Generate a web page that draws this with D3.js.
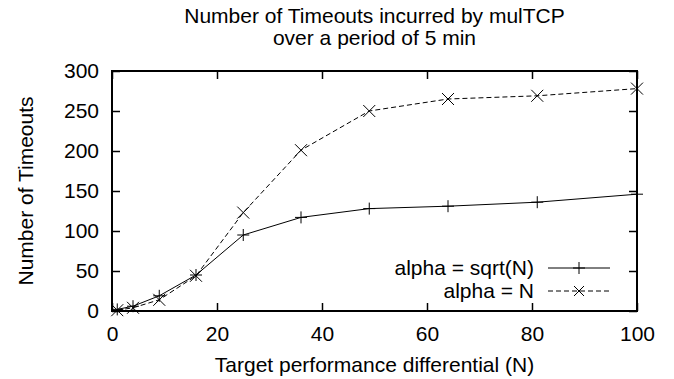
<!DOCTYPE html>
<html><head><meta charset="utf-8">
<script src="https://cdn.jsdelivr.net/npm/d3@7"></script>
<style>body{margin:0;background:#fff}svg{display:block}text{font-family:"Liberation Sans",Arial,sans-serif;fill:#000}</style>
</head><body>
<script>
const nValues = [1, 4, 9, 16, 25, 36, 49, 64, 81, 100];
const sqrtSeries = [2, 6, 19, 45, 95, 117, 128, 131, 136, 146];
const nSeries = [1, 4, 14, 44, 123, 201, 250, 265, 269, 278];
const seriesNames = ["alpha = sqrt(N)", "alpha = N"];
const xTicks = [0, 20, 40, 60, 80, 100];
const yTicks = [0, 50, 100, 150, 200, 250, 300];
const titleLines = ["Number of Timeouts incurred by mulTCP", "over a period of 5 min"];
const xLabel = "Target performance differential (N)";
const yLabel = "Number of Timeouts";

const W = 674, H = 379;
const m = {l: 112, r: 37, t: 71, b: 68};
const svg = d3.select("body").append("svg").attr("width", W).attr("height", H);
const x = d3.scaleLinear().domain([0, 100]).range([m.l, W - m.r]);
const y = d3.scaleLinear().domain([0, 300]).range([H - m.b, m.t]);
const fs = 21, tl = 8;
const cx = (x(0) + x(100)) / 2;

// axes with inward mirrored ticks
svg.append("g").attr("transform", `translate(0,${y(0)})`)
  .call(d3.axisBottom(x).tickValues(xTicks).tickSize(-tl).tickPadding(15))
  .call(g => { g.select(".domain").remove(); g.selectAll("text").attr("font-size", fs).attr("font-family", null); g.selectAll("line").attr("stroke-width", 1.5); });
svg.append("g").attr("transform", `translate(0,${y(300)})`)
  .call(d3.axisTop(x).tickValues(xTicks).tickSize(-tl).tickFormat(""))
  .call(g => { g.select(".domain").remove(); g.selectAll("line").attr("stroke-width", 1.5); });
svg.append("g").attr("transform", `translate(${x(0)},0)`)
  .call(d3.axisLeft(y).tickValues(yTicks).tickSize(-tl).tickPadding(13))
  .call(g => { g.select(".domain").remove(); g.selectAll("text").attr("font-size", fs).attr("font-family", null); g.selectAll("line").attr("stroke-width", 1.5); });
svg.append("g").attr("transform", `translate(${x(100)},0)`)
  .call(d3.axisRight(y).tickValues(yTicks).tickSize(-tl).tickFormat(""))
  .call(g => { g.select(".domain").remove(); g.selectAll("line").attr("stroke-width", 1.5); });
svg.append("rect").attr("x", x(0)).attr("y", y(300)).attr("width", x(100) - x(0)).attr("height", y(0) - y(300))
  .attr("fill", "none").attr("stroke", "#000").attr("stroke-width", 2);

// series
const line = d3.line().x(d => x(d[0])).y(d => y(d[1]));
const s1 = nValues.map((v, i) => [v, sqrtSeries[i]]);
const s2 = nValues.map((v, i) => [v, nSeries[i]]);
svg.append("path").attr("d", line(s1)).attr("fill", "none").attr("stroke", "#000").attr("stroke-width", 1);
svg.append("path").attr("d", line(s2)).attr("fill", "none").attr("stroke", "#000").attr("stroke-width", 1).attr("stroke-dasharray", "5,3");

function plus(g, px, py, r) {
  g.append("path").attr("d", `M${px - r},${py}H${px + r}M${px},${py - r}V${py + r}`).attr("stroke", "#000").attr("stroke-width", 1).attr("fill", "none");
}
function cross(g, px, py, r) {
  g.append("path").attr("d", `M${px - r},${py - r}L${px + r},${py + r}M${px - r},${py + r}L${px + r},${py - r}`).attr("stroke", "#000").attr("stroke-width", 1).attr("fill", "none");
}
const mk = svg.append("g");
s1.forEach(d => plus(mk, x(d[0]), y(d[1]), 6));
s2.forEach(d => cross(mk, x(d[0]), y(d[1]), 6));

// legend
const lg = svg.append("g");
const legendRows = [{name: seriesNames[0], dash: null, m: plus}, {name: seriesNames[1], dash: "5,3", m: cross}];
legendRows.forEach((r, i) => {
  const ly = 268 + i * 23;
  lg.append("text").attr("x", 534).attr("y", ly).attr("dy", "0.35em").attr("text-anchor", "end").attr("font-size", fs).text(r.name);
  lg.append("line").attr("x1", 548).attr("x2", 610).attr("y1", ly).attr("y2", ly).attr("stroke", "#000").attr("stroke-width", 1).attr("stroke-dasharray", r.dash);
  r.m(lg, 579, ly, i === 0 ? 6 : 5);
});

// titles
titleLines.forEach((t, i) => {
  svg.append("text").attr("x", cx).attr("y", 23 + i * 22).attr("text-anchor", "middle").attr("font-size", fs).text(t);
});
svg.append("text").attr("x", cx).attr("y", 372).attr("text-anchor", "middle").attr("font-size", fs).text(xLabel);
svg.append("text").attr("transform", `translate(33,${(y(0) + y(300)) / 2}) rotate(-90)`).attr("text-anchor", "middle").attr("font-size", fs).text(yLabel);
</script>
</body></html>
